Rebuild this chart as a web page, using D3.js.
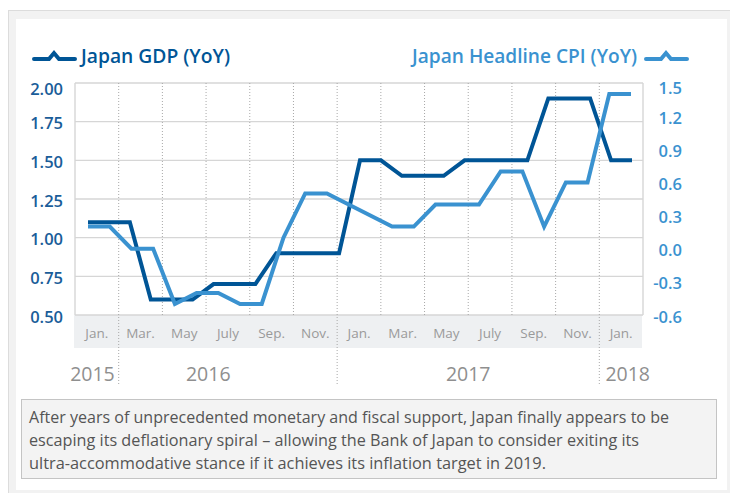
<!DOCTYPE html>
<html>
<head>
<meta charset="utf-8">
<script src="https://cdn.jsdelivr.net/npm/d3@7"></script>
<style>
  html, body { margin: 0; padding: 0; background: #fff; }
  svg { display: block; font-family: "Open Sans", "Noto Sans", sans-serif; }
</style>
</head>
<body>
<svg id="chart"></svg>
<script>
(() => {
  const W = 730, H = 493;

  // data
  const monthLabels = ["Jan.", "Mar.", "May", "July", "Sep.", "Nov.", "Jan.", "Mar.", "May", "July", "Sep.", "Nov.", "Jan."];
  const years = ["2015", "2016", "2017", "2018"];
  const yearStart = [0, 1, 6, 12];        // band index where each year starts
  const yearLabelAt = [0.4, 3.05, 9, 12.65]; // label anchor, in band units
  const gdp = [1.1, 1.1, 1.1, 0.6, 0.6, 0.6, 0.7, 0.7, 0.7, 0.9, 0.9, 0.9, 0.9,
    1.5, 1.5, 1.4, 1.4, 1.4, 1.5, 1.5, 1.5, 1.5, 1.9, 1.9, 1.9, 1.5, 1.5];
  const cpi = [0.2, 0.2, 0.0, 0.0, -0.5, -0.4, -0.4, -0.5, -0.5, 0.1, 0.5, 0.5, 0.4,
    0.3, 0.2, 0.2, 0.4, 0.4, 0.4, 0.7, 0.7, 0.2, 0.6, 0.6, 1.4, 1.4];
  const leftTicks = [2.0, 1.75, 1.5, 1.25, 1.0, 0.75, 0.5];
  const rightTicks = [1.5, 1.2, 0.9, 0.6, 0.3, 0.0, -0.3, -0.6];
  const caption = [
    "After years of unprecedented monetary and fiscal support, Japan finally appears to be",
    "escaping its deflationary spiral \u2013 allowing the Bank of Japan to consider exiting its",
    "ultra-accommodative stance if it achieves its inflation target in 2019."
  ];
  const captionWidths = [640, 610, 517];

  const C_GDP = "#005596", C_CPI = "#3a92d0", GRID = "#d6d6d6", GREY = "#959595";

  const svg = d3.select("#chart").attr("width", W).attr("height", H);

  // frame
  svg.append("rect").attr("x", 8.5).attr("y", 10.5).attr("width", 740).attr("height", 500)
    .attr("fill", "#f2f2f2").attr("stroke", "#dcdcdc");
  svg.append("rect").attr("x", 16).attr("y", 19).attr("width", 711).attr("height", 471).attr("fill", "#fff");

  const L = 75, R = 643, T = 83, B = 315, BAND_B = 348;

  const x = d3.scaleBand().domain(d3.range(monthLabels.length)).range([L, R]);
  const bw = x.bandwidth();
  const xc = d3.scaleLinear().domain([0, cpi.length - 1]).range([L + 13, R - 12]);
  const xg = d3.scaleLinear().domain([0, gdp.length - 1]).range([L + 13, R - 11]);
  const yL = d3.scaleLinear().domain([0.5, 2.0]).range([B, T]);
  const yR = d3.scaleLinear().domain([-0.6, 1.5]).range([B, T]);

  // x axis band
  svg.append("rect").attr("x", L - 1).attr("y", B).attr("width", R - L).attr("height", BAND_B - B)
    .attr("fill", "#eef0f2");

  // horizontal grid
  svg.append("g").selectAll("line").data(leftTicks).join("line")
    .attr("x1", L).attr("x2", R)
    .attr("y1", d => yL(d)).attr("y2", d => yL(d))
    .attr("stroke", GRID).attr("stroke-width", 1.4);

  // plot frame sides
  svg.append("line").attr("x1", L).attr("x2", L).attr("y1", T).attr("y2", B).attr("stroke", GRID).attr("stroke-width", 1.4);
  svg.append("line").attr("x1", R).attr("x2", R).attr("y1", T).attr("y2", B).attr("stroke", GRID).attr("stroke-width", 1.4);

  // vertical dotted grid
  svg.append("g").selectAll("line").data(d3.range(1, monthLabels.length)).join("line")
    .attr("x1", d => x(d)).attr("x2", d => x(d))
    .attr("y1", T).attr("y2", d => yearStart.includes(d) ? 386 : B)
    .attr("stroke", "#a8a8a8").attr("stroke-width", 1).attr("stroke-dasharray", "1,2");

  // month labels
  svg.append("g").selectAll("text").data(monthLabels).join("text")
    .attr("x", (d, i) => x(i) + bw / 2).attr("y", 333)
    .attr("text-anchor", "middle").attr("dominant-baseline", "central")
    .attr("font-size", 13.5).attr("fill", "#9a9a9a").text(d => d);

  // year labels
  svg.append("g").selectAll("text").data(years).join("text")
    .attr("x", (d, i) => L + yearLabelAt[i] * bw).attr("y", 373)
    .attr("text-anchor", "middle").attr("dominant-baseline", "central")
    .attr("font-size", 19.5).attr("fill", "#8f8f8f").text(d => d);

  // axes text
  svg.append("g").selectAll("text").data(leftTicks).join("text")
    .attr("x", 63).attr("y", d => yL(d) + (d === 2 ? 5 : 1))
    .attr("text-anchor", "end").attr("dominant-baseline", "central")
    .attr("font-size", 16.5).attr("font-weight", 600).attr("fill", "#1a5d99")
    .text(d => d3.format(".2f")(d));
  svg.append("g").selectAll("text").data(rightTicks).join("text")
    .attr("x", 682).attr("y", d => yR(d) + (d === 1.5 ? 4 : 1))
    .attr("text-anchor", "end").attr("dominant-baseline", "central")
    .attr("font-size", 16.5).attr("font-weight", 600).attr("fill", C_CPI)
    .text(d => d3.format(".1f")(d).replace("\u2212", "-"));

  // lines
  const lineG = d3.line().x((d, i) => xg(i)).y(d => yL(d));
  const lineC = d3.line().x((d, i) => xc(i)).y(d => yR(d));
  svg.append("path").datum(gdp).attr("d", lineG)
    .attr("fill", "none").attr("stroke", C_GDP).attr("stroke-width", 4).attr("stroke-linejoin", "miter");
  svg.append("path").datum(cpi).attr("d", lineC)
    .attr("fill", "none").attr("stroke", C_CPI).attr("stroke-width", 4).attr("stroke-linejoin", "miter");

  // legend
  const icon = (x0, y0, col) => {
    const pts = [[0, 0], [15, 0], [20, -6], [25, 0], [41, 0]].map(p => [x0 + p[0], y0 + p[1]]);
    svg.append("path").attr("d", d3.line()(pts)).attr("fill", "none")
      .attr("stroke", col).attr("stroke-width", 4).attr("stroke-linecap", "round");
  };
  icon(34, 59, C_GDP);
  svg.append("text").attr("x", 81).attr("y", 63).attr("font-size", 19).attr("font-weight", 600)
    .attr("fill", C_GDP).attr("textLength", 149).attr("lengthAdjust", "spacingAndGlyphs")
    .text("Japan GDP (YoY)");
  svg.append("text").attr("x", 637).attr("y", 63).attr("text-anchor", "end").attr("font-size", 19).attr("font-weight", 600)
    .attr("fill", C_CPI).attr("textLength", 225).attr("lengthAdjust", "spacingAndGlyphs")
    .text("Japan Headline CPI (YoY)");
  icon(646, 59, C_CPI);

  // caption box
  svg.append("rect").attr("x", 21.5).attr("y", 399.5).attr("width", 695).attr("height", 79)
    .attr("fill", "#f3f3f3").attr("stroke", "#c4c4c4");
  svg.append("g").selectAll("text").data(caption).join("text")
    .attr("x", 29).attr("y", (d, i) => 423 + i * 23)
    .attr("font-size", 15.5).attr("fill", "#555")
    .attr("textLength", (d, i) => captionWidths[i]).attr("lengthAdjust", "spacingAndGlyphs")
    .text(d => d);
})();
</script>
</body>
</html>
